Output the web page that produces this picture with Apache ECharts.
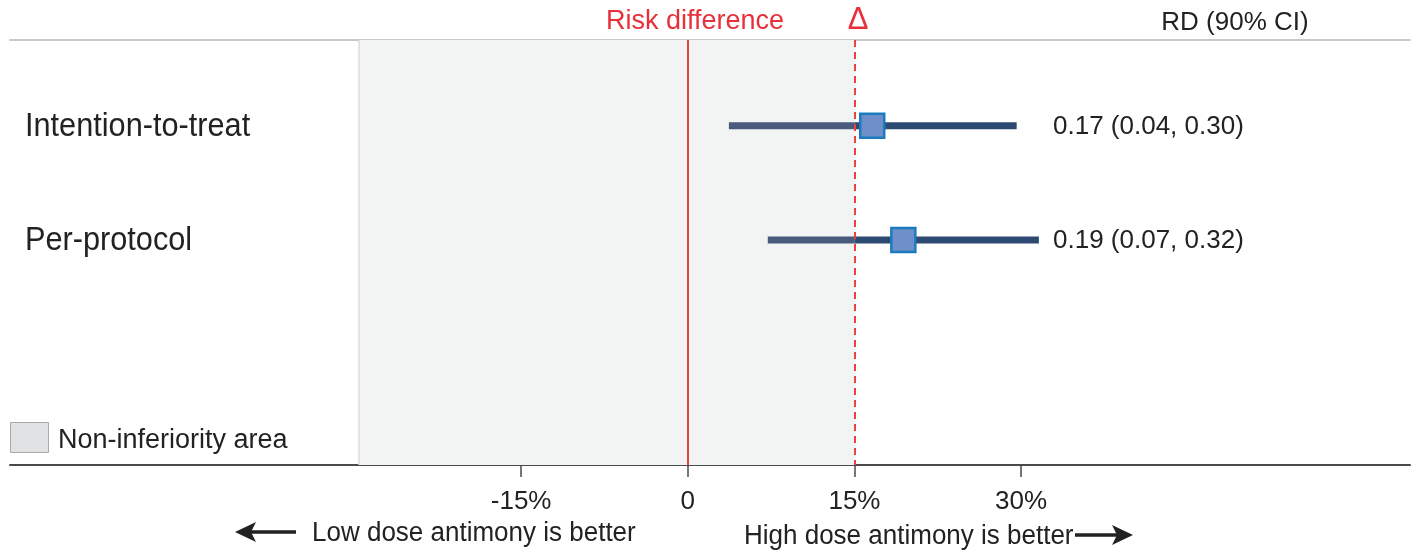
<!DOCTYPE html>
<html>
<head>
<meta charset="utf-8">
<script src="https://cdn.jsdelivr.net/npm/echarts@6/dist/echarts.min.js"></script>
<style>
  html, body { margin: 0; padding: 0; background: #ffffff; }
  #chart { width: 1416px; height: 550px; }
</style>
</head>
<body>
<div id="chart"></div>
<script>
// ---- data ----
const rowLabels = ['Intention-to-treat', 'Per-protocol'];
const rowPos = [1, 2];
const estimates = [0.166, 0.194];
const lowerCI = [0.037, 0.072];
const upperCI = [0.296, 0.316];
const ciText = ['0.17 (0.04, 0.30)', '0.19 (0.07, 0.32)'];
const tickValues = [-0.15, 0, 0.15, 0.30];
const margin = 0.15;          // Δ non-inferiority margin
const areaStart = -0.296;     // left edge of shaded area

const FONT = "'Liberation Sans', Arial, sans-serif";
const chart = echarts.init(document.getElementById('chart'));

const xMin = -0.61, xMax = 0.65;

function fmtTick(v) {
  const p = Math.round(v * 100);
  return p === 0 ? '0' : p + '%';
}

const ciData = rowPos.map((r, i) => [lowerCI[i], upperCI[i], r]);
const estData = rowPos.map((r, i) => [estimates[i], r]);
const textData = rowPos.map((r, i) => [r, i]);

const option = {
  backgroundColor: '#ffffff',
  animation: false,
  grid: { left: 10, right: 6, top: 40, bottom: 85 },
  xAxis: [
    {
      type: 'value', min: xMin, max: xMax, position: 'bottom',
      splitLine: { show: false },
      axisLine: { show: true, onZero: false, lineStyle: { color: '#4a4a4a', width: 2 } },
      axisTick: { show: true, customValues: tickValues, length: 12, lineStyle: { color: '#4a4a4a', width: 1.5 } },
      axisLabel: {
        show: true, customValues: tickValues, formatter: fmtTick, margin: 24,
        fontFamily: FONT, fontSize: 26, color: '#222222'
      }
    },
    {
      type: 'value', min: xMin, max: xMax, position: 'top',
      splitLine: { show: false },
      axisLine: { show: true, onZero: false, lineStyle: { color: '#c8c8c8', width: 2 } },
      axisTick: { show: false }, axisLabel: { show: false }
    }
  ],
  yAxis: {
    type: 'value', inverse: true, min: 0.25, max: 3.97, show: false
  },
  series: [
    {
      type: 'scatter',
      data: [],
      z: 1,
      markArea: {
        silent: true,
        itemStyle: { color: '#f2f4f3' },
        data: [[{ xAxis: areaStart }, { xAxis: margin }]]
      },
      markLine: {
        silent: true, symbol: 'none', label: { show: false }, precision: 6,
        data: [
          { xAxis: areaStart, lineStyle: { color: '#dcdcdc', width: 1.5, type: 'solid' } },
          { xAxis: 0, lineStyle: { color: '#e8423a', width: 2, type: 'solid' } },
          { xAxis: margin, lineStyle: { color: '#e8423a', width: 2, type: [7, 5] } }
        ]
      }
    },
    {
      type: 'custom',
      z: 3,
      data: ciData,
      renderItem: function (params, api) {
        const lo = api.value(0), hi = api.value(1), r = api.value(2);
        const p1 = api.coord([lo, r]);
        const p2 = api.coord([hi, r]);
        const pd = api.coord([margin, r]);
        const children = [];
        const midA = Math.min(pd[0], p2[0]);
        if (midA > p1[0]) {
          children.push({ type: 'line', shape: { x1: p1[0], y1: p1[1], x2: midA, y2: p1[1] },
            style: { stroke: '#4a5a7c', lineWidth: 7 } });
        }
        const midB = Math.max(pd[0], p1[0]);
        if (p2[0] > midB) {
          children.push({ type: 'line', shape: { x1: midB, y1: p1[1], x2: p2[0], y2: p1[1] },
            style: { stroke: '#2c4a72', lineWidth: 7 } });
        }
        return { type: 'group', children: children };
      }
    },
    {
      type: 'scatter',
      z: 5,
      data: estData,
      symbol: 'rect',
      symbolSize: 24,
      itemStyle: { color: '#6f8fca', borderColor: '#1b7bbf', borderWidth: 2.5, opacity: 1 }
    },
    {
      type: 'custom',
      z: 6,
      data: textData,
      renderItem: function (params, api) {
        const r = api.value(0);
        const i = api.value(1);
        const y = api.coord([0, r])[1];
        return {
          type: 'group',
          children: [
            { type: 'text', x: 25, y: y + 1, scaleY: 1.08,
              style: { text: rowLabels[i], font: '30.7px ' + FONT, fill: '#222222',
                       textAlign: 'left', textVerticalAlign: 'middle' } },
            { type: 'text', x: 1053, y: y + 1,
              style: { text: ciText[i], font: '26px ' + FONT, fill: '#222222',
                       textAlign: 'left', textVerticalAlign: 'middle' } }
          ]
        };
      }
    }
  ],
  graphic: [
    { type: 'text', x: 695, y: 22, style: { text: 'Risk difference', font: '27px ' + FONT, fill: '#e8303a', textAlign: 'center', textVerticalAlign: 'middle' } },
    { type: 'text', x: 858, y: 20, style: { text: 'Δ', font: '31px ' + FONT, fill: '#e8303a', textAlign: 'center', textVerticalAlign: 'middle' } },
    { type: 'text', x: 1235, y: 23, style: { text: 'RD (90% CI)', font: '26px ' + FONT, fill: '#222222', textAlign: 'center', textVerticalAlign: 'middle' } },
    { type: 'rect', shape: { x: 10.5, y: 422.5, width: 38, height: 30 }, style: { fill: '#e1e2e3', stroke: '#aaaaaa', lineWidth: 1 } },
    { type: 'text', x: 58, y: 441, style: { text: 'Non-inferiority area', font: '27px ' + FONT, fill: '#222222', textAlign: 'left', textVerticalAlign: 'middle' } },
    { type: 'text', x: 312, y: 533, scaleY: 1.06, style: { text: 'Low dose antimony is better', font: '26px ' + FONT, fill: '#222222', textAlign: 'left', textVerticalAlign: 'middle' } },
    { type: 'text', x: 744, y: 536, scaleY: 1.06, style: { text: 'High dose antimony is better', font: '26px ' + FONT, fill: '#222222', textAlign: 'left', textVerticalAlign: 'middle' } },
    { type: 'line', shape: { x1: 250, y1: 532, x2: 296, y2: 532 }, style: { stroke: '#222222', lineWidth: 3.5 } },
    { type: 'polygon', shape: { points: [[235, 532], [256, 522], [251, 532], [256, 542]] }, style: { fill: '#222222' } },
    { type: 'line', shape: { x1: 1075, y1: 535, x2: 1118, y2: 535 }, style: { stroke: '#222222', lineWidth: 3.5 } },
    { type: 'polygon', shape: { points: [[1133, 535], [1112, 525], [1117, 535], [1112, 545]] }, style: { fill: '#222222' } }
  ]
};

chart.setOption(option);
</script>
</body>
</html>
